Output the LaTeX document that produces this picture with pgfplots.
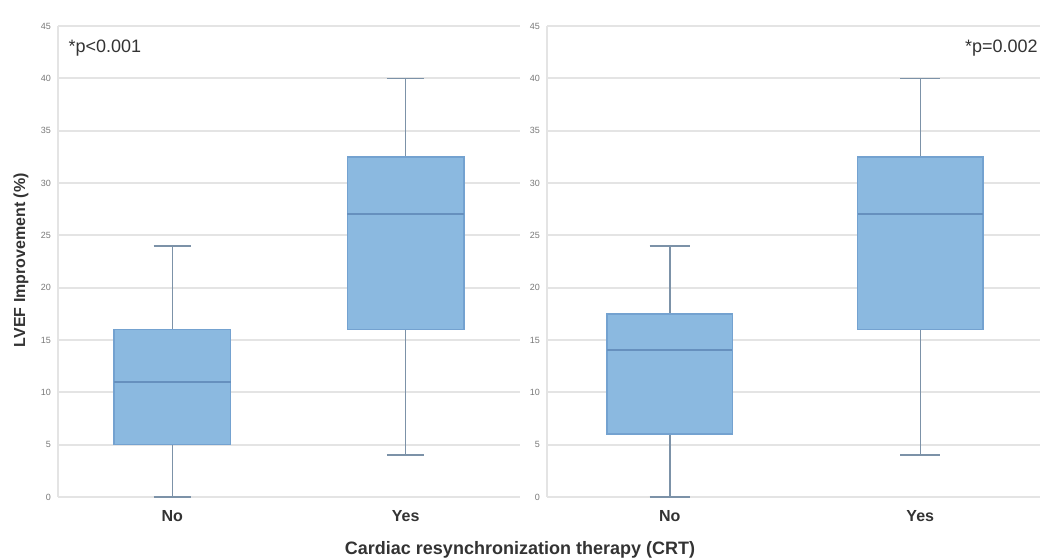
\documentclass[border=0pt]{standalone}
\usepackage{pgfplots}
\pgfplotsset{compat=1.18}
\usepgfplotslibrary{statistics}
\usepackage{fontspec}
\setmainfont{Liberation Sans}

\definecolor{boxfill}{RGB}{139,185,224}
\definecolor{boxedge}{RGB}{116,162,208}
\definecolor{medline}{RGB}{102,144,190}
\definecolor{whisk}{RGB}{124,146,168}
\definecolor{gridc}{RGB}{228,228,228}
\definecolor{tickc}{RGB}{120,120,120}
\definecolor{labc}{RGB}{51,51,51}

\tikzset{pnote/.style={font=\fontsize{9}{10}\selectfont, text=labc, inner sep=0pt}}

\pgfplotsset{
  crtpanel/.style={
    scale only axis,
    height=235.5pt,
    ymin=0, ymax=45,
    xmin=-0.49, xmax=1.49,
    ytick={0,5,...,45},
    xtick={0,1}, xticklabels={No,Yes},
    separate axis lines,
    axis x line*=bottom, axis y line*=left,
    x axis line style={draw=none},
    y axis line style={draw=gridc, line width=1pt},
    ymajorgrids, grid style={draw=gridc, line width=1pt},
    major tick style={draw=none},
    /pgf/number format/assume math mode=true,
    yticklabel style={font=\fontsize{4.5}{5}\selectfont, text=tickc},
    xticklabel style={font=\fontsize{8}{10}\selectfont\bfseries, text=labc, yshift=-3pt},
    boxplot/draw direction=y,
    boxplot/box extend=0.5,
    boxplot/whisker extend=0.16,
    boxplot/every box/.style={draw=boxedge, fill=boxfill, line width=0.8pt},
    boxplot/every median/.style={draw=medline, line width=1pt},
    boxplot/every whisker/.style={draw=whisk, line width=0.75pt},
  },
}

\begin{document}
\begin{tikzpicture}
\useasboundingbox (0,0) rectangle (520pt,-279pt);

% left panel
\begin{axis}[crtpanel, width=231pt, at={(29pt,-248.5pt)}, anchor=south west,
  ylabel={LVEF Improvement (\%)},
  ylabel style={at={(axis description cs:-0.08,0.503)}, anchor=center,
    font=\fontsize{8}{9}\selectfont\bfseries, text=labc}]
  \addplot[draw=whisk, line width=0.75pt, boxplot prepared={draw position=0,
    lower whisker=0, lower quartile=5, median=11,
    upper quartile=16, upper whisker=24}] coordinates {};
  \addplot[draw=whisk, line width=0.75pt, boxplot prepared={draw position=1,
    lower whisker=4, lower quartile=16, median=27,
    upper quartile=32.5, upper whisker=40}] coordinates {};
  \node[pnote, anchor=west] at (rel axis cs:0.022,0.953) {*p<0.001};
\end{axis}

% right panel
\begin{axis}[crtpanel, width=248pt, at={(273.5pt,-248.5pt)}, anchor=south west]
  \addplot[draw=whisk, line width=0.75pt, boxplot prepared={draw position=0,
    lower whisker=0, lower quartile=6, median=14,
    upper quartile=17.5, upper whisker=24}] coordinates {};
  \addplot[draw=whisk, line width=0.75pt, boxplot prepared={draw position=1,
    lower whisker=4, lower quartile=16, median=27,
    upper quartile=32.5, upper whisker=40}] coordinates {};
  \node[pnote, anchor=east] at (rel axis cs:0.990,0.953) {*p=0.002};
\end{axis}

\node[font=\fontsize{9}{10}\selectfont\bfseries, text=labc, anchor=base]
  at (260pt,-277pt) {Cardiac resynchronization therapy (CRT)};
\end{tikzpicture}
\end{document}
